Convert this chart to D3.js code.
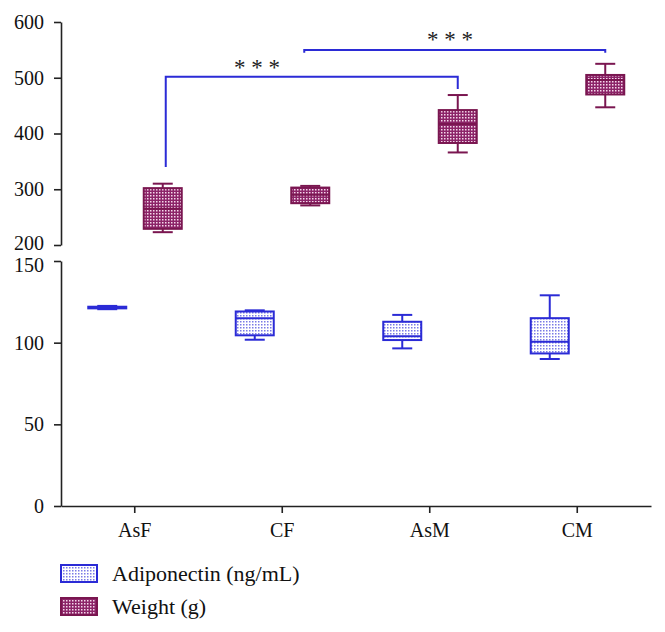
<!DOCTYPE html>
<html><head><meta charset="utf-8">
<script src="https://cdn.jsdelivr.net/npm/d3@7/dist/d3.min.js"></script>
<style>body{margin:0;background:#fff}svg{display:block}</style>
</head><body><svg id="c" width="665" height="632"></svg>
<script>
const categories = ["AsF","CF","AsM","CM"];
// [min, q1, median, q3, max]
const weightBoxes = [[223,229,265,302,310],[271,275,290,303,306],[366,383,417,442,469],[447,470,496,505,525]];
const adipoBoxes = [[120.5,121,121.5,122,122.5],[101.8,104.5,115,119.1,119.8],[96.5,101.6,104,112.8,117],[90,93.4,100.6,115,129]];
const weightTicks = [200,300,400,500,600];
const adipoTicks = [0,50,100,150];
const seriesNames = ["Adiponectin (ng/mL)","Weight (g)"];
const brackets = [{from:0,to:2,level:502,drop1:340,drop2:480,label:"* * *"},{from:1,to:3,level:550,drop1:545,drop2:545,label:"* * *"}];

const svg = d3.select("#c");
const font = "'Liberation Serif','DejaVu Serif',serif";
const blue = "#2b2bd6", maroon = "#7a1650";
const defs = svg.append("defs");
const pa = defs.append("pattern").attr("id","pA").attr("width",3).attr("height",3).attr("patternUnits","userSpaceOnUse");
pa.append("rect").attr("width",3).attr("height",3).attr("fill","#ffffff");
pa.append("rect").attr("width",1.5).attr("height",1.5).attr("fill","#7a7ae6");
const pw = defs.append("pattern").attr("id","pW").attr("width",3).attr("height",3).attr("patternUnits","userSpaceOnUse");
pw.append("rect").attr("width",3).attr("height",3).attr("fill","#8c2468");
pw.append("rect").attr("width",1.5).attr("height",1.5).attr("fill","#f4d8ea");

const x = d3.scaleBand().domain(categories).range([61,651]);
const cx = c => x(c) + x.bandwidth()/2;
const yT = d3.scaleLinear().domain([200,600]).range([245,22]);
const yB = d3.scaleLinear().domain([0,150]).range([506,261]);

function axisStyle(g){
  g.selectAll("path,line").attr("stroke","#222").attr("stroke-width",1.6);
  g.selectAll("text").attr("font-family",font).attr("font-size",20).attr("fill","#111");
}
const gT = svg.append("g").attr("transform","translate(61,0)").call(d3.axisLeft(yT).tickValues(weightTicks).tickSize(7).tickSizeOuter(0).tickPadding(10)).call(axisStyle);
gT.selectAll(".tick text").filter(d=>d===200).attr("dy","0.2em");
const gB = svg.append("g").attr("transform","translate(61,0)").call(d3.axisLeft(yB).tickValues(adipoTicks).tickSize(7).tickSizeOuter(0).tickPadding(10)).call(axisStyle);
gB.selectAll(".tick text").filter(d=>d===150).attr("dy","0.5em");
svg.append("g").attr("transform","translate(0,506)").call(d3.axisBottom(x).tickSize(7).tickSizeOuter(0).tickPadding(10)).call(axisStyle);

function drawBoxes(data, y, off, fill, stroke){
  const g = svg.append("g");
  data.forEach((d,i)=>{
    const c = cx(categories[i]) + off, w = 38, cap = 20;
    g.append("line").attr("x1",c).attr("x2",c).attr("y1",y(d[0])).attr("y2",y(d[4])).attr("stroke",stroke).attr("stroke-width",2);
    g.append("line").attr("x1",c-cap/2).attr("x2",c+cap/2).attr("y1",y(d[0])).attr("y2",y(d[0])).attr("stroke",stroke).attr("stroke-width",2);
    g.append("line").attr("x1",c-cap/2).attr("x2",c+cap/2).attr("y1",y(d[4])).attr("y2",y(d[4])).attr("stroke",stroke).attr("stroke-width",2);
    g.append("rect").attr("x",c-w/2).attr("y",y(d[3])).attr("width",w).attr("height",Math.max(1,y(d[1])-y(d[3])))
      .attr("fill",fill).attr("stroke",stroke).attr("stroke-width",2);
    g.append("line").attr("x1",c-w/2).attr("x2",c+w/2).attr("y1",y(d[2])).attr("y2",y(d[2])).attr("stroke",stroke).attr("stroke-width",2);
  });
}
drawBoxes(adipoBoxes, yB, -27.5, "url(#pA)", blue);
drawBoxes(weightBoxes, yT, 28, "url(#pW)", maroon);

// significance brackets (small horizontal nudges of the bracket ends)
const endNudge = [[31,28],[22,28]];
brackets.forEach((b,i)=>{
  const x1 = cx(categories[b.from])+endNudge[i][0], x2 = cx(categories[b.to])+endNudge[i][1];
  const path = d3.path();
  path.moveTo(x1,yT(b.drop1)); path.lineTo(x1,yT(b.level)); path.lineTo(x2,yT(b.level)); path.lineTo(x2,yT(b.drop2));
  svg.append("path").attr("d",path.toString()).attr("fill","none").attr("stroke",blue).attr("stroke-width",2);
});
svg.append("text").attr("x",257).attr("y",yT(502)-2).attr("text-anchor","middle").attr("font-family",font).attr("font-size",23).attr("fill","#222").text(brackets[0].label);
svg.append("text").attr("x",450).attr("y",yT(550)-3).attr("text-anchor","middle").attr("font-family",font).attr("font-size",23).attr("fill","#222").text(brackets[1].label);

// legend
const lg = svg.append("g");
[["url(#pA)",blue],["url(#pW)",maroon]].forEach((s,i)=>{
  const yy = 565 + i*33;
  lg.append("rect").attr("x",61).attr("y",yy).attr("width",36).attr("height",17).attr("fill",s[0]).attr("stroke",s[1]).attr("stroke-width",2);
  lg.append("text").attr("x",112).attr("y",yy+16).attr("font-family",font).attr("font-size",22).attr("fill","#111").text(seriesNames[i]);
});
</script></body></html>
